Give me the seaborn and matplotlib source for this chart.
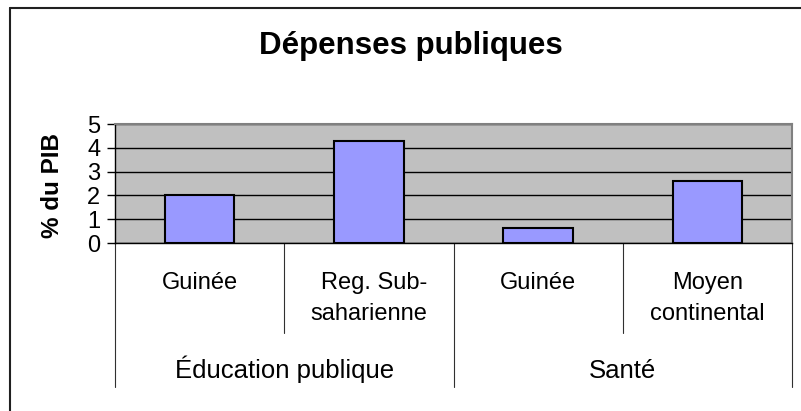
import matplotlib
matplotlib.use("Agg")
import matplotlib.pyplot as plt
import matplotlib.transforms as mtransforms
from matplotlib.lines import Line2D
import pandas as pd
import seaborn as sns

# data
groups = ["Éducation publique", "Éducation publique", "Santé", "Santé"]
regions = ["Guinée", "Reg. Sub-\nsaharienne", "Guinée", "Moyen\ncontinental"]
values = [2.0, 4.3, 0.65, 2.6]
yticks = [0, 1, 2, 3, 4, 5]
label_align = ["center", "right", "center", "center"]

sns.set_style("white")
plt.rcParams["font.family"] = ["Liberation Sans", "DejaVu Sans"]
plt.rcParams["text.color"] = "black"
plt.rcParams["ytick.color"] = "black"
plt.rcParams["ytick.labelcolor"] = "black"

W, H = 801, 411
fig = plt.figure(figsize=(W / 100, H / 100), dpi=100)
fig.patch.set_facecolor("white")

# plot area in pixels: left 115, right 792, top 124, bottom 243
ax = fig.add_axes([115 / W, 1 - 243 / H, (792 - 115) / W, (243 - 124) / H])
ax.set_facecolor("#C0C0C0")

df = pd.DataFrame({"group": groups, "region": regions, "pct": values})
df["key"] = [f"{g}|{r}" for g, r in zip(groups, regions)]

sns.barplot(data=df, x="key", y="pct", color="#9999FF", saturation=1,
            edgecolor="black", linewidth=1.5, width=0.41, ax=ax, zorder=3)

ax.set_ylim(0, 5)
ax.set_xlim(-0.5, len(values) - 0.5)
ax.set_yticks(yticks)
ax.set_yticklabels([str(t) for t in yticks], fontsize=17)
ax.yaxis.grid(True, color="black", linewidth=1)
ax.set_axisbelow(True)
ax.tick_params(axis="y", length=6, width=1, color="black", pad=4.5, left=True)
ax.set_xticks([])
ax.set_xlabel("")
ax.set_ylabel("")
for side in ["left", "bottom"]:
    ax.spines[side].set_color("black")
    ax.spines[side].set_linewidth(1)
for side in ["top", "right"]:
    ax.spines[side].set_color("#808080")
    ax.spines[side].set_linewidth(1.5)

# multi-level category axis below the plot
trans = mtransforms.blended_transform_factory(ax.transData, fig.transFigure)
n = len(values)
for i, r in enumerate(regions):
    ax.text(i, 1 - 272 / H, r, transform=trans, ha="center", va="top",
            fontsize=17, linespacing=1.52, multialignment=label_align[i])
for i in range(n + 1):
    x = i - 0.5
    group_edge = i == 0 or i == n or groups[i] != groups[i - 1]
    ybot = 387 if group_edge else 333
    ax.add_line(Line2D([x, x], [1 - 243 / H, 1 - ybot / H], transform=trans,
                       color="#303030", linewidth=0.8, clip_on=False))
group_names = list(dict.fromkeys(groups))
for g in group_names:
    idx = [i for i, gg in enumerate(groups) if gg == g]
    ax.text((idx[0] + idx[-1]) / 2, 1 - 378 / H, g, transform=trans,
            ha="center", va="baseline", fontsize=18.5)

fig.text(53 / W, 1 - 185 / H, "% du PIB", rotation=90, ha="center",
         va="center", fontsize=17.5, fontweight="bold")
fig.text(411 / W, 1 - 54 / H, "Dépenses publiques", ha="center",
         va="baseline", fontsize=22.5, fontweight="bold")

# chart frame (clipped on the right and bottom in the reference)
fig.add_artist(Line2D([10 / W, 10 / W], [0, 1 - 8 / H], transform=fig.transFigure,
                      color="#202020", linewidth=1.5))
fig.add_artist(Line2D([10 / W, 1], [1 - 8 / H, 1 - 8 / H], transform=fig.transFigure,
                      color="#202020", linewidth=1.5))

fig.savefig("out.png", dpi=100)
